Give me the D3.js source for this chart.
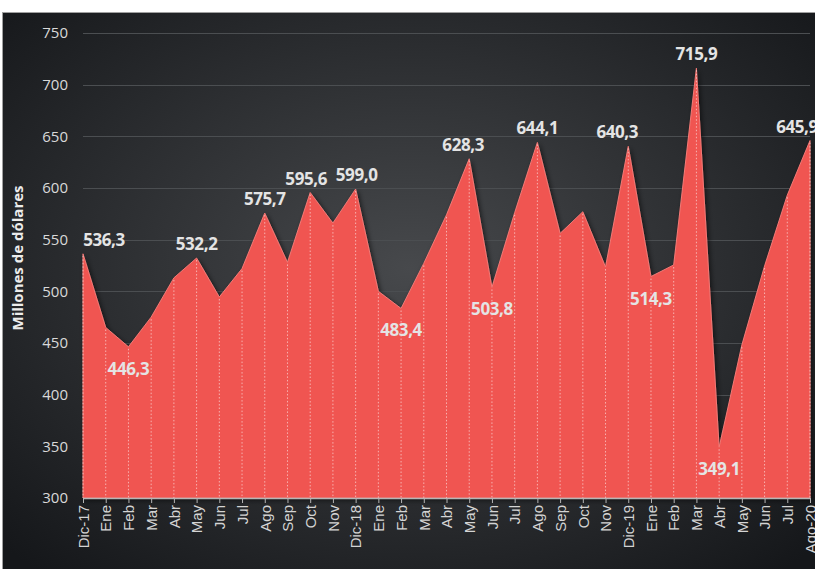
<!DOCTYPE html>
<meta charset="utf-8">
<title>Millones de dólares</title>
<style>
  body { margin: 0; background: #fff; }
  svg { display: block; font-family: "Open Sans", "Noto Sans", sans-serif; }
  .grid line { stroke: #4b4e51; stroke-width: 1px; }
  .ytick { fill: #d9d9d9; font-size: 15px; }
  .xaxis text { fill: #d4d4d4; font-size: 15px; }
  .xaxis line, .xaxis path { stroke: #b5b5b5; }
  .drop line { stroke: #ffffff; stroke-opacity: 0.55; stroke-dasharray: 1.5 2; }
  .vlabel { fill: #e4e4e4; font-size: 17px; font-weight: bold; letter-spacing: -0.4px; }
</style>
<svg width="815" height="569"></svg>
<script src="https://cdn.jsdelivr.net/npm/d3@7"></script>
<script>
// months, Dic-17 .. Ago-20
var months = ["Dic-17","Ene","Feb","Mar","Abr","May","Jun","Jul","Ago","Sep","Oct","Nov",
              "Dic-18","Ene","Feb","Mar","Abr","May","Jun","Jul","Ago","Sep","Oct","Nov",
              "Dic-19","Ene","Feb","Mar","Abr","May","Jun","Jul","Ago-20"];

// millones de dólares
var values = [536.3, 465, 446.3, 475, 513, 532.2, 494.5, 522, 575.7, 528, 595.6, 566,
              599.0, 500, 483.4, 527, 574, 628.3, 503.8, 576, 644.1, 556, 577, 523.5,
              640.3, 514.3, 525.5, 715.9, 349.1, 448, 524.5, 593, 645.9];

// which points carry a value label, and which of them sit under the point
var labelled = [0, 2, 5, 8, 10, 12, 14, 17, 18, 20, 24, 25, 27, 28, 32];
var labelBelow = [2, 14, 18, 25, 28];

var yTicks = [300, 350, 400, 450, 500, 550, 600, 650, 700, 750];

var svg = d3.select("svg"),
    width = +svg.attr("width"),
    height = +svg.attr("height");

var plotLeft = 83, plotRight = 810, plotTop = 33, plotBottom = 498;

// background panel
var defs = svg.append("defs");
var bg = defs.append("radialGradient")
    .attr("id", "bg")
    .attr("cx", "50%").attr("cy", "45%").attr("r", "70%");
bg.append("stop").attr("offset", "0%").attr("stop-color", "#47494c");
bg.append("stop").attr("offset", "100%").attr("stop-color", "#15171a");

var shadow = defs.append("filter").attr("id", "shadow")
    .attr("x", "-10%").attr("y", "-10%").attr("width", "120%").attr("height", "120%");
shadow.append("feDropShadow")
    .attr("dx", 2).attr("dy", 2).attr("stdDeviation", 2.5)
    .attr("flood-color", "#000").attr("flood-opacity", 0.55);

svg.append("rect")
    .attr("x", 2.5).attr("y", 12.5)
    .attr("width", width).attr("height", height)
    .attr("fill", "url(#bg)")
    .attr("stroke", "#a0a0a0");

var idx = d3.range(values.length);

var x = d3.scalePoint()
    .domain(idx)
    .range([plotLeft, plotRight]);

var y = d3.scaleLinear()
    .domain([300, 750])
    .range([plotBottom, plotTop]);

// gridlines
svg.append("g")
    .attr("class", "grid")
    .selectAll("line")
    .data(yTicks)
    .enter().append("line")
    .attr("x1", plotLeft).attr("x2", plotRight)
    .attr("y1", function(d) { return Math.round(y(d)) + 0.5; })
    .attr("y2", function(d) { return Math.round(y(d)) + 0.5; });

svg.append("g")
    .selectAll("text")
    .data(yTicks)
    .enter().append("text")
    .attr("class", "ytick")
    .attr("x", 68)
    .attr("y", function(d) { return y(d); })
    .attr("dy", "0.35em")
    .attr("text-anchor", "end")
    .text(function(d) { return d; });

// area
var area = d3.area()
    .x(function(d, i) { return x(i); })
    .y0(y(300))
    .y1(function(d) { return y(d); });

svg.append("path")
    .datum(values)
    .attr("d", area)
    .attr("fill", "#f05451")
    .attr("stroke", "#f47a76")
    .attr("stroke-width", 1)
    .attr("filter", "url(#shadow)");

// dotted drop lines
svg.append("g")
    .attr("class", "drop")
    .selectAll("line")
    .data(values)
    .enter().append("line")
    .attr("x1", function(d, i) { return x(i); })
    .attr("x2", function(d, i) { return x(i); })
    .attr("y1", function(d) { return y(d) + 2; })
    .attr("y2", y(300));

// x axis
var xAxis = svg.append("g")
    .attr("class", "xaxis")
    .attr("transform", "translate(0," + y(300) + ")")
    .call(d3.axisBottom(x)
        .tickSize(5)
        .tickSizeOuter(0)
        .tickFormat(function(i) { return months[i]; }));

xAxis.select(".domain").attr("stroke-width", 1.5);

xAxis.selectAll("text")
    .attr("transform", "rotate(-90)")
    .attr("x", -7)
    .attr("y", 0)
    .attr("dy", "0.35em")
    .attr("text-anchor", "end");

// value labels
var fmt = function(v) { return d3.format(".1f")(v).replace(".", ","); };
var nudge = { 0: 21, 10: -4, 12: 1, 17: -6, 24: -11, 32: -13 };

svg.append("g")
    .selectAll("text")
    .data(labelled)
    .enter().append("text")
    .attr("class", "vlabel")
    .attr("x", function(i) { return x(i) + (nudge[i] || 0); })
    .attr("y", function(i) {
        return labelBelow.indexOf(i) >= 0 ? y(values[i]) + 28 : y(values[i]) - 8;
    })
    .attr("text-anchor", "middle")
    .text(function(i) { return fmt(values[i]); });

// axis title
svg.append("text")
    .attr("transform", "translate(23,258) rotate(-90)")
    .attr("text-anchor", "middle")
    .attr("fill", "#ececec")
    .attr("font-size", 15)
    .attr("font-weight", "bold")
    .text("Millones de dólares");
</script>
